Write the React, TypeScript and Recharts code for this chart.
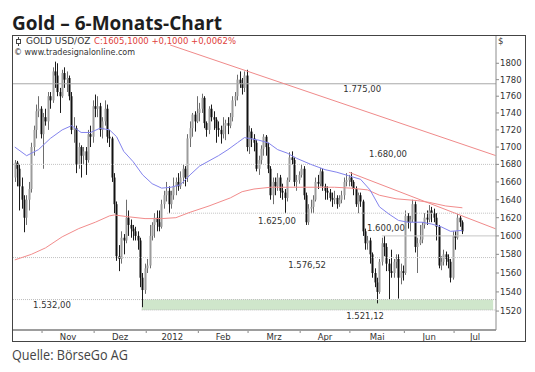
import React from 'react';
import {
  ComposedChart,
  Bar,
  Line,
  XAxis,
  YAxis,
  ReferenceLine,
  ReferenceArea,
  ReferenceDot,
} from 'recharts';

const FONT = '"DejaVu Sans", Verdana, sans-serif';

// first trading day shown (14 Oct 2011), one bar per weekday
const startDate = new Date(2011, 9, 14);

const open = [
  1665, 1682, 1675, 1655, 1640, 1620, 1640, 1652, 1700, 1720,
  1742, 1745, 1715, 1735, 1730, 1760, 1755, 1790, 1785, 1765,
  1760, 1788, 1780, 1782, 1760, 1720, 1722, 1680, 1700, 1690,
  1695, 1685, 1715, 1712, 1748, 1745, 1748, 1720, 1730, 1745,
  1712, 1710, 1665, 1635, 1578, 1575, 1598, 1595, 1620, 1612,
  1608, 1605, 1600, 1595, 1555, 1542, 1565, 1568, 1600, 1612,
  1620, 1615, 1610, 1635, 1645, 1650, 1635, 1645, 1655, 1660,
  1655, 1665, 1675, 1665, 1710, 1722, 1738, 1730, 1740, 1745,
  1758, 1728, 1720, 1745, 1735, 1732, 1722, 1720, 1715, 1725,
  1728, 1725, 1735, 1755, 1760, 1780, 1775, 1770, 1785, 1700,
  1718, 1710, 1705, 1675, 1685, 1698, 1712, 1700, 1675, 1645,
  1660, 1655, 1665, 1650, 1648, 1642, 1662, 1688, 1685, 1660,
  1662, 1668, 1675, 1645, 1615, 1630, 1632, 1640, 1660, 1658,
  1672, 1655, 1650, 1648, 1642, 1640, 1642, 1635, 1640, 1645,
  1660, 1662, 1665, 1660, 1652, 1635, 1645, 1638, 1605, 1592,
  1595, 1580, 1560, 1550, 1540, 1572, 1592, 1588, 1570, 1562,
  1560, 1572, 1575, 1555, 1562, 1560, 1622, 1615, 1618, 1635,
  1588, 1592, 1596, 1612, 1620, 1618, 1628, 1625, 1620, 1610,
  1568, 1572, 1580, 1575, 1572, 1555, 1600, 1598, 1620, 1615,
];
const high = [
  1685, 1684, 1680, 1665, 1645, 1645, 1660, 1705, 1725, 1750,
  1760, 1748, 1740, 1745, 1765, 1765, 1795, 1802, 1800, 1770,
  1792, 1795, 1790, 1785, 1765, 1735, 1725, 1705, 1702, 1700,
  1700, 1720, 1725, 1755, 1762, 1760, 1752, 1735, 1755, 1750,
  1720, 1712, 1670, 1638, 1590, 1605, 1602, 1640, 1628, 1618,
  1612, 1610, 1605, 1598, 1560, 1570, 1575, 1612, 1615, 1625,
  1628, 1628, 1640, 1650, 1660, 1655, 1650, 1665, 1665, 1670,
  1672, 1680, 1678, 1715, 1730, 1740, 1742, 1760, 1752, 1763,
  1760, 1730, 1748, 1750, 1742, 1735, 1730, 1725, 1735, 1732,
  1735, 1740, 1760, 1765, 1786, 1790, 1782, 1790, 1792, 1725,
  1722, 1715, 1708, 1690, 1702, 1715, 1714, 1705, 1678, 1665,
  1665, 1670, 1668, 1658, 1652, 1665, 1694, 1695, 1688, 1668,
  1672, 1680, 1678, 1648, 1635, 1640, 1645, 1665, 1668, 1676,
  1675, 1658, 1655, 1652, 1648, 1650, 1645, 1645, 1650, 1665,
  1670, 1668, 1671, 1662, 1655, 1648, 1648, 1640, 1608, 1600,
  1598, 1582, 1565, 1555, 1575, 1598, 1600, 1592, 1575, 1585,
  1575, 1580, 1580, 1570, 1568, 1628, 1625, 1622, 1640, 1638,
  1598, 1612, 1615, 1625, 1628, 1634, 1632, 1630, 1625, 1612,
  1578, 1585, 1583, 1580, 1575, 1605, 1605, 1624, 1622, 1617,
];
const low = [
  1660, 1655, 1628, 1630, 1604, 1612, 1628, 1648, 1690, 1710,
  1735, 1710, 1675, 1725, 1720, 1745, 1752, 1770, 1760, 1740,
  1758, 1770, 1765, 1755, 1715, 1705, 1670, 1675, 1665, 1680,
  1668, 1682, 1700, 1705, 1735, 1735, 1712, 1710, 1725, 1705,
  1700, 1660, 1625, 1573, 1562, 1570, 1580, 1592, 1600, 1598,
  1595, 1595, 1585, 1545, 1524, 1538, 1560, 1565, 1595, 1598,
  1605, 1605, 1608, 1630, 1638, 1625, 1630, 1640, 1645, 1650,
  1652, 1658, 1655, 1660, 1700, 1712, 1718, 1728, 1730, 1740,
  1722, 1712, 1715, 1730, 1720, 1705, 1712, 1704, 1710, 1708,
  1715, 1722, 1730, 1748, 1755, 1770, 1762, 1765, 1695, 1692,
  1700, 1695, 1672, 1668, 1680, 1690, 1690, 1670, 1640, 1635,
  1645, 1650, 1642, 1640, 1625, 1638, 1660, 1680, 1655, 1650,
  1658, 1665, 1640, 1612, 1612, 1625, 1625, 1638, 1652, 1655,
  1650, 1640, 1640, 1638, 1632, 1635, 1630, 1632, 1636, 1640,
  1655, 1655, 1655, 1645, 1632, 1625, 1632, 1600, 1585, 1585,
  1570, 1555, 1545, 1528, 1538, 1568, 1578, 1562, 1532, 1555,
  1555, 1565, 1533, 1548, 1552, 1558, 1608, 1605, 1615, 1582,
  1560, 1590, 1592, 1608, 1612, 1615, 1615, 1615, 1595, 1565,
  1563, 1568, 1568, 1565, 1550, 1553, 1585, 1596, 1610, 1602,
];
const close = [
  1682, 1675, 1655, 1640, 1620, 1640, 1652, 1700, 1720, 1742,
  1745, 1715, 1735, 1730, 1760, 1755, 1790, 1785, 1765, 1760,
  1788, 1780, 1782, 1760, 1720, 1722, 1680, 1700, 1690, 1695,
  1685, 1715, 1712, 1748, 1745, 1748, 1720, 1730, 1745, 1712,
  1710, 1665, 1635, 1578, 1575, 1598, 1595, 1620, 1612, 1608,
  1605, 1600, 1595, 1555, 1542, 1565, 1568, 1600, 1612, 1620,
  1615, 1610, 1635, 1645, 1650, 1635, 1645, 1655, 1660, 1655,
  1665, 1675, 1665, 1710, 1722, 1738, 1730, 1740, 1745, 1758,
  1728, 1720, 1745, 1735, 1732, 1722, 1720, 1715, 1725, 1728,
  1725, 1735, 1755, 1760, 1780, 1775, 1770, 1785, 1700, 1718,
  1710, 1705, 1675, 1685, 1698, 1712, 1700, 1675, 1645, 1660,
  1655, 1665, 1650, 1648, 1642, 1662, 1688, 1685, 1660, 1662,
  1668, 1675, 1645, 1615, 1630, 1632, 1640, 1660, 1658, 1672,
  1655, 1650, 1648, 1642, 1640, 1642, 1635, 1640, 1645, 1660,
  1662, 1665, 1660, 1652, 1635, 1645, 1638, 1605, 1592, 1595,
  1580, 1560, 1550, 1540, 1572, 1592, 1588, 1570, 1562, 1560,
  1572, 1575, 1555, 1562, 1560, 1622, 1615, 1618, 1635, 1588,
  1592, 1596, 1612, 1620, 1618, 1628, 1625, 1620, 1610, 1568,
  1572, 1580, 1575, 1572, 1555, 1600, 1598, 1620, 1615, 1605,
];

// moving averages: [bar index, price]
const maBlue: [number, number][] = [
  [0, 1700], [5, 1690], [10, 1697], [15, 1710], [20, 1720], [24, 1725],
  [28, 1717], [32, 1717], [36, 1722], [40, 1720], [43, 1712], [46, 1695],
  [50, 1683], [54, 1668], [58, 1658], [62, 1653], [66, 1654], [70, 1657],
  [74, 1668], [78, 1678], [82, 1684], [86, 1690], [90, 1697], [94, 1705],
  [97, 1711], [99, 1710], [103, 1708], [107, 1705], [111, 1697], [115, 1693],
  [119, 1687], [125, 1680], [131, 1674], [136, 1671], [141, 1667], [146, 1663],
  [150, 1651], [154, 1632], [158, 1624], [162, 1617], [166, 1615], [172, 1615],
  [176, 1613], [180, 1610], [184, 1605], [189, 1606],
];
const maRed: [number, number][] = [
  [0, 1574], [7, 1580], [13, 1587], [20, 1599], [27, 1608], [34, 1615],
  [40, 1622], [42, 1623], [48, 1621], [55, 1619], [62, 1619], [68, 1620],
  [74, 1626], [82, 1633], [91, 1642], [96, 1649], [101, 1652], [108, 1654],
  [122, 1654], [135, 1654], [142, 1653], [149, 1651], [154, 1645], [161, 1641],
  [170, 1639], [175, 1637], [182, 1633], [189, 1631],
];

const yTicks = [1520, 1540, 1560, 1580, 1600, 1620, 1640, 1660, 1680, 1700, 1720, 1740, 1760, 1780, 1800];
const monthLabels = ['Nov', 'Dez', '2012', 'Feb', 'Mrz', 'Apr', 'Mai', 'Jun', 'Jul'];

const X_MIN = -0.76;
const X_MAX = 203.2;

// horizontal support / resistance levels
const levels = [
  { price: 1775, from: X_MIN, to: X_MAX, dotted: false, color: '#a8a8a8' },
  { price: 1680, from: X_MIN, to: X_MAX, dotted: true, color: '#c2c2c2' },
  { price: 1625, from: 64.3, to: X_MAX, dotted: true, color: '#c2c2c2' },
  { price: 1600, from: 155, to: X_MAX, dotted: false, color: '#c6c6c6' },
  { price: 1576.52, from: X_MIN, to: X_MAX, dotted: true, color: '#c2c2c2' },
  { price: 1532, from: X_MIN, to: X_MAX, dotted: true, color: '#bdbdbd' },
  { price: 1521.12, from: 53.6, to: X_MAX, dotted: true, color: '#bdbdbd' },
];

const levelLabels = [
  { text: '1.775,00', x: 138.3, y: 1768.7 },
  { text: '1.680,00', x: 149.2, y: 1692 },
  { text: '1.625,00', x: 102.3, y: 1616.5 },
  { text: '1.600,00', x: 148.3, y: 1608.7 },
  { text: '1.576,52', x: 115, y: 1568.7 },
  { text: '1.532,00', x: 7.3, y: 1526 },
  { text: '1.521,12', x: 139.5, y: 1515 },
];

const trendLines = [
  [{ x: 65.6, y: 1822.6 }, { x: 203, y: 1690.2 }],
  [{ x: 141.1, y: 1671 }, { x: 203, y: 1607.8 }],
];

function tradingDays(start: Date, n: number): Date[] {
  const out: Date[] = [];
  const d = new Date(start);
  while (out.length < n) {
    const wd = d.getDay();
    if (wd !== 0 && wd !== 6) out.push(new Date(d));
    d.setDate(d.getDate() + 1);
  }
  return out;
}

const dates = tradingDays(startDate, close.length);

const boundaries: number[] = [];
for (let i = 1; i < dates.length; i++) {
  if (dates[i].getMonth() !== dates[i - 1].getMonth()) boundaries.push(i - 0.5);
}
const mids = boundaries.map((b, k) => (b + (k + 1 < boundaries.length ? boundaries[k + 1] : X_MAX)) / 2);

const blueMap = new Map(maBlue);
const redMap = new Map(maRed);

const rows = dates.map((d, i) => ({
  i,
  range: [low[i], high[i]],
  o: open[i],
  h: high[i],
  l: low[i],
  c: close[i],
  blue: blueMap.has(i) ? blueMap.get(i) : null,
  red: redMap.has(i) ? redMap.get(i) : null,
}));

const Candle = (props: any) => {
  const { x, y, width, height, payload } = props;
  if (x == null || y == null || !payload) return null;
  const top = Math.min(y, y + height);
  const bot = Math.max(y, y + height);
  const cx = Math.round(x + width / 2) + 0.5;
  const lh = Math.log(payload.h);
  const ll = Math.log(payload.l);
  const py = (p: number) => (lh === ll ? top : top + ((bot - top) * (lh - Math.log(p))) / (lh - ll));
  const yo = py(payload.o);
  const yc = py(payload.c);
  const up = payload.c >= payload.o;
  const bodyTop = Math.min(yo, yc);
  const bodyH = Math.max(1, Math.abs(yo - yc));
  return (
    <g>
      <line x1={cx} x2={cx} y1={top} y2={bot} stroke={up ? '#6e6e6e' : '#1c1c1c'} strokeWidth={1} />
      <rect x={cx - 1} y={bodyTop} width={2} height={bodyH} fill={up ? '#9c9c9c' : '#111'} />
    </g>
  );
};

const MonthTick = (props: any) => {
  const { x, y, payload } = props;
  const v = payload.value;
  const k = mids.indexOf(v);
  if (k === -1) {
    return <line x1={x} x2={x} y1={y + 1} y2={y + 3} stroke="#888" strokeWidth={1} />;
  }
  return (
    <text x={x} y={y + 10} textAnchor="middle" fontSize={8.5} fontFamily={FONT} fill="#333">
      {monthLabels[k]}
    </text>
  );
};

export default function App() {
  return (
    <div style={{ position: 'absolute', left: 0, top: 0, width: 535, height: 372, background: '#fff' }}>
      <ComposedChart
        width={535}
        height={372}
        data={rows}
        margin={{ top: 36, right: 10, bottom: 30, left: 13 }}
      >
        <XAxis
          type="number"
          dataKey="i"
          domain={[X_MIN, X_MAX]}
          allowDataOverflow
          ticks={[...boundaries, ...mids]}
          interval={0}
          tickLine={false}
          tickSize={0}
          tickMargin={0}
          height={12}
          axisLine={{ stroke: '#9d9d9d', strokeWidth: 2 }}
          tick={(p: any) => <MonthTick {...p} />}
        />
        <YAxis
          orientation="right"
          scale="log"
          domain={[1500.5, 1833.8]}
          allowDataOverflow
          ticks={yTicks}
          interval={0}
          width={29}
          tickSize={3}
          tickMargin={1}
          axisLine={{ stroke: '#8c8c8c' }}
          tickLine={{ stroke: '#8c8c8c' }}
          tick={{ fontSize: 8.5, fill: '#333', fontFamily: FONT }}
        />

        <ReferenceArea
          x1={53.6}
          x2={202}
          y1={1521.12}
          y2={1532}
          fill="#cfe6cb"
          fillOpacity={1}
          stroke="none"
          ifOverflow="visible"
        />

        {levels.map((lv) => (
          <ReferenceLine
            key={lv.price}
            segment={[{ x: lv.from, y: lv.price }, { x: lv.to, y: lv.price }]}
            stroke={lv.color}
            strokeWidth={1}
            strokeDasharray={lv.dotted ? '1 1' : undefined}
            ifOverflow="visible"
          />
        ))}

        {trendLines.map((seg, k) => (
          <ReferenceLine key={k} segment={seg} stroke="#f08a8a" strokeWidth={1} ifOverflow="visible" />
        ))}

        <Line
          dataKey="red"
          stroke="#f28c8c"
          strokeWidth={1}
          dot={false}
          connectNulls
          isAnimationActive={false}
        />
        <Line
          dataKey="blue"
          stroke="#8484ee"
          strokeWidth={1}
          dot={false}
          connectNulls
          isAnimationActive={false}
        />

        <Bar
          dataKey="range"
          barSize={2}
          isAnimationActive={false}
          shape={(p: any) => <Candle {...p} />}
        />

        {levelLabels.map((lb) => (
          <ReferenceDot
            key={lb.text}
            x={lb.x}
            y={lb.y}
            r={1}
            fill="none"
            stroke="none"
            ifOverflow="visible"
            label={{ value: lb.text, position: 'right', offset: 0, fontSize: 8.5, fill: '#333', fontFamily: FONT }}
          />
        ))}
      </ComposedChart>

      <div
        style={{
          position: 'absolute',
          left: 12,
          top: 35,
          width: 514,
          height: 307,
          boxSizing: 'border-box',
          border: '1px solid #444',
          pointerEvents: 'none',
        }}
      />

      <svg
        width={535}
        height={372}
        style={{ position: 'absolute', left: 0, top: 0, pointerEvents: 'none' }}
      >
        <text x={12} y={29.5} fontFamily='"Open Sans", sans-serif' fontWeight={700} fontSize={19} fill="#1e1e1e">
          Gold – 6-Monats-Chart
        </text>
        <text
          x={12}
          y={360}
          fontFamily='"Open Sans", sans-serif'
          fontSize={14.5}
          fill="#444"
          textLength={116}
          lengthAdjust="spacingAndGlyphs"
        >
          Quelle: BörseGo AG
        </text>

        <line x1={18.5} x2={18.5} y1={37} y2={46} stroke="#444" strokeWidth={1} />
        <rect x={16.5} y={39.5} width={4} height={4} fill="#fff" stroke="#444" strokeWidth={1} />
        <text x={26} y={44} fontFamily={FONT} fontSize={9} fill="#333">
          GOLD USD/OZ
        </text>
        <text x={94} y={44} fontFamily={FONT} fontSize={8.5} fill="#e0413b">
          C:1605,1000 +0,1000 +0,0062%
        </text>
        <text x={14} y={54.5} fontFamily={FONT} fontSize={8} fill="#333">
          © www.tradesignalonline.com
        </text>
        <text x={498} y={44} fontFamily={FONT} fontSize={8.5} fill="#333">
          $
        </text>
      </svg>
    </div>
  );
}
